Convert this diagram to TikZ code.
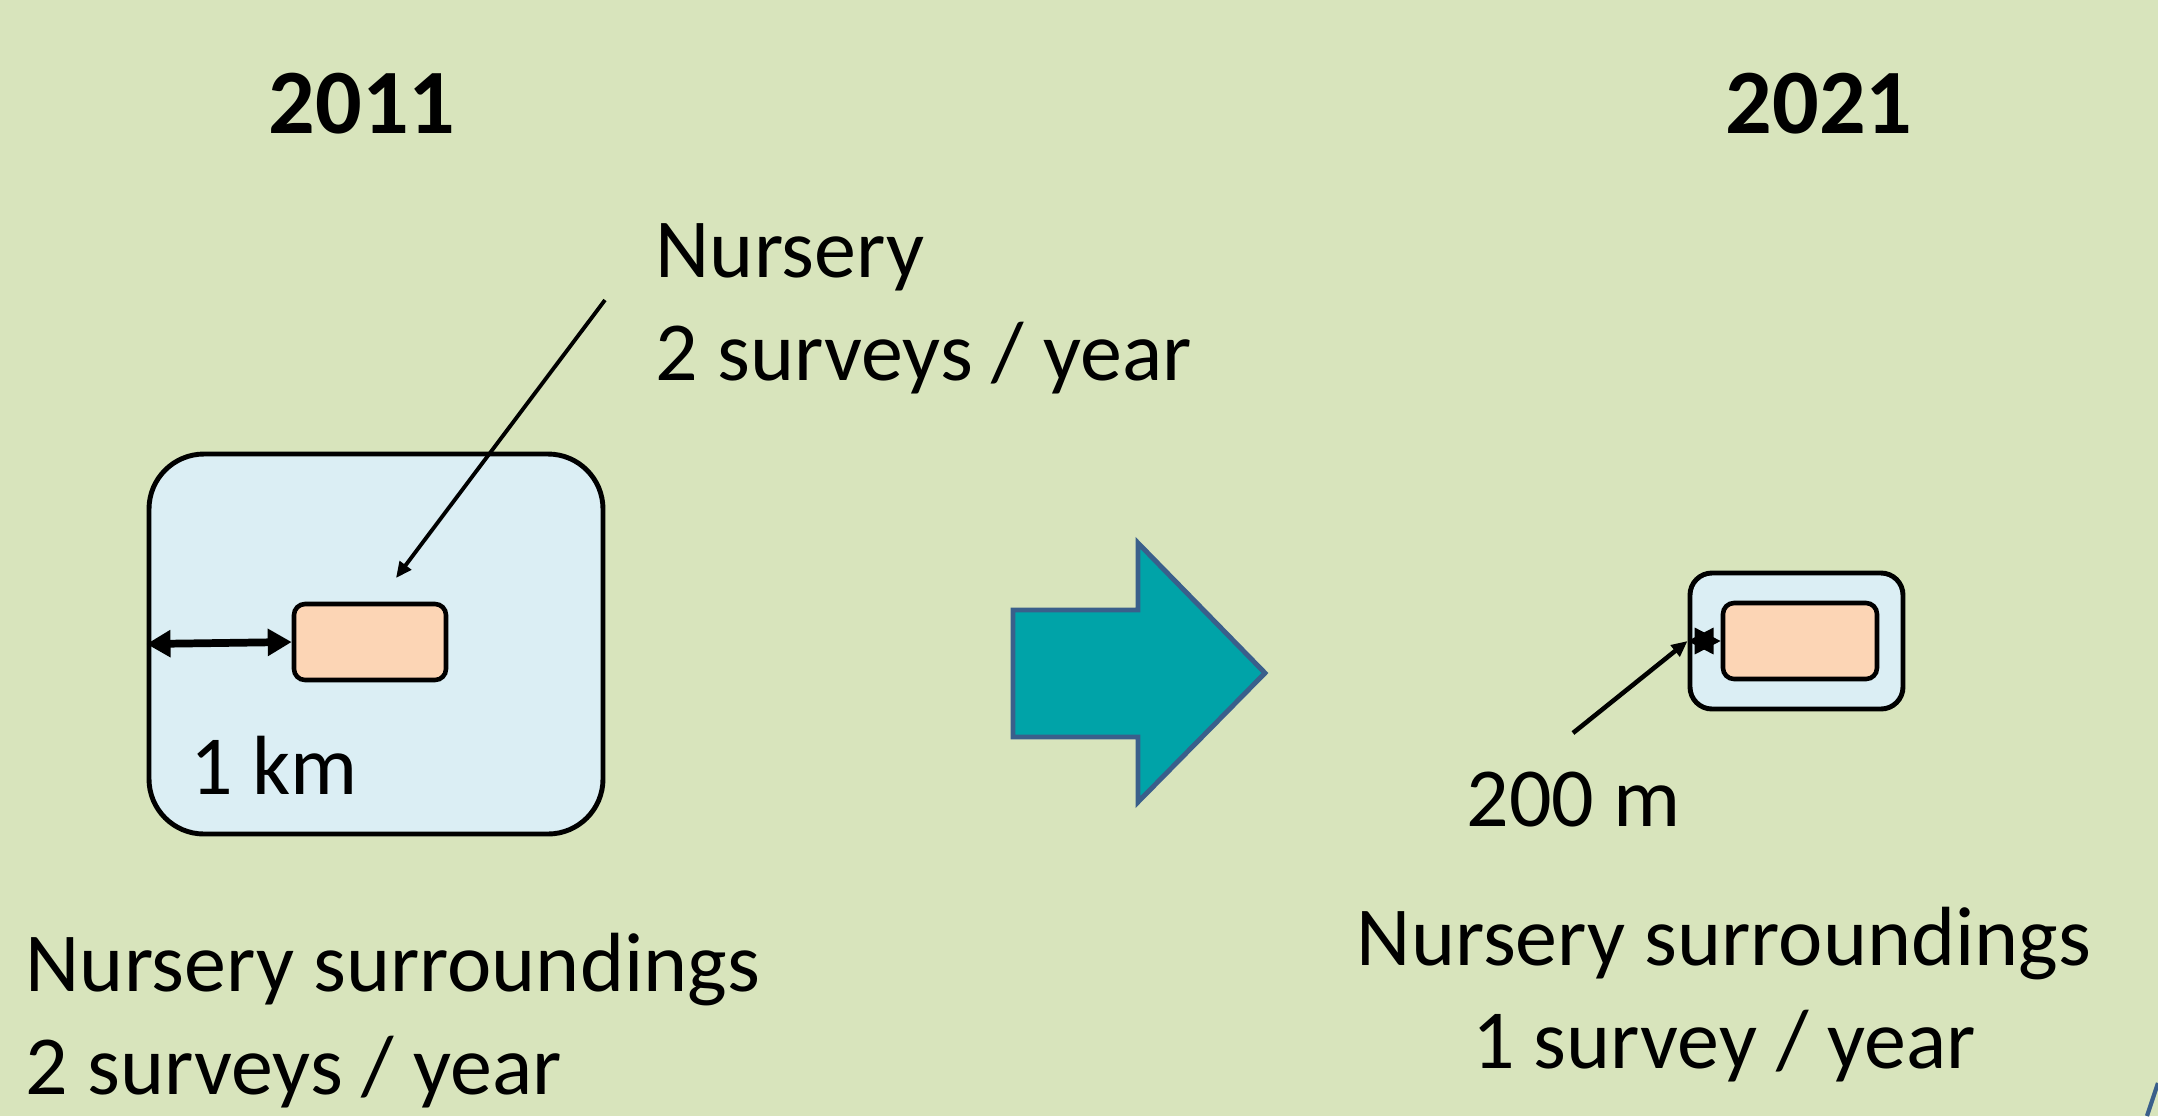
\documentclass[tikz,border=0pt]{standalone}
\usepackage{fontspec}
\setmainfont{Carlito}
\usepackage{xcolor}
\usepackage{tikz}
\usetikzlibrary{arrows.meta,positioning}

\definecolor{bgolive}{HTML}{D8E4BC}
\definecolor{zoneblue}{HTML}{DBEEF4}
\definecolor{nurserypeach}{HTML}{FCD5B5}
\definecolor{arrowteal}{HTML}{00A3A8}
\definecolor{arrowedge}{HTML}{3A5F8B}

\tikzset{
    zone/.style={draw=black, line width=1.4pt, fill=zoneblue, inner sep=0pt},
    nurserybox/.style={draw=black, line width=1.3pt, fill=nurserypeach, inner sep=0pt,
        minimum height=0.76cm, rounded corners=0.11cm},
    plaintext/.style={inner sep=0pt, font=\fontsize{23.9}{29.2}\selectfont},
    yeartext/.style={inner sep=0pt, font=\fontsize{26.2}{30}\selectfont\bfseries},
    pointer/.style={draw=black, -{Triangle[length=0.16cm,width=0.14cm]}},
    spanarrow/.style={draw=black, {Triangle[length=0.24cm,width=0.26cm]}-{Triangle[length=0.24cm,width=0.26cm]}}
}

\begin{document}
\begin{tikzpicture}
                % background
                \fill[bgolive] (0,0) rectangle (21.58,-11.16);
                \useasboundingbox (0,0) rectangle (21.58,-11.16);

                \node[yeartext, anchor=base] (year2011) at (3.62,-1.33) {2011};
                \node[yeartext, anchor=base] (year2021) at (18.19,-1.33) {2021};

                % 2011
                \node[
                    zone,
                    minimum width=4.54cm,
                    minimum height=3.80cm,
                    rounded corners=0.55cm
                ] (zoneA) at (3.76,-6.44) {};

                \node[
                    nurserybox,
                    minimum width=1.52cm
                ] (nurseryA) at (3.70,-6.42) {};

                \node[plaintext, anchor=base west, align=left] (nurserytext) at (6.55,-3.80) {Nursery\\2 surveys / year};
                \node[plaintext, anchor=base west] (kmtext) at (1.90,-7.94) {1 km};
                \node[plaintext, anchor=base west, align=left] (surrA) at (0.25,-10.94) {Nursery surroundings\\2 surveys / year};

                \coordinate (pA) at (6.05,-3.00);
                \coordinate (tA) at (3.96,-5.78);
                \draw[pointer, line width=1.1pt] (pA) -- (tA);
                \draw[spanarrow, line width=2.2pt] (zoneA.west) -- (nurseryA.west);

                % big arrow
                \draw[
                    line width=1.4pt,
                    draw=arrowedge,
                    fill=arrowteal
                ] (10.13,-6.10) -- (11.38,-6.10) -- (11.38,-5.43) -- (12.65,-6.73)
                  -- (11.38,-8.02) -- (11.38,-7.37) -- (10.13,-7.37) -- cycle;

                % 2021
                \node[
                    zone,
                    minimum width=2.13cm,
                    minimum height=1.36cm,
                    rounded corners=0.22cm
                ] (zoneB) at (17.965,-6.41) {};

                \node[
                    nurserybox,
                    minimum width=1.54cm
                ] (nurseryB) at (18.00,-6.41) {};

                \node[plaintext, anchor=base west] (mtext) at (14.66,-8.26) {200 m};
                \node[plaintext, anchor=base, align=center] (surrB) at (17.24,-10.68) {Nursery surroundings\\1 survey / year};

                \coordinate (pB) at (15.73,-7.33);
                \draw[pointer, line width=1.3pt] (pB) -- (zoneB.west);
                \draw[
                    line width=1pt,
                    {Triangle[length=0.26cm,width=0.26cm]}-{Triangle[length=0.26cm,width=0.26cm]}
                ] (zoneB.west) -- (nurseryB.west);

                % corner
                \draw[line width=1.2pt, draw=arrowedge] (21.47,-11.16) -- (21.58,-10.83);

            \end{tikzpicture}
\end{document}
